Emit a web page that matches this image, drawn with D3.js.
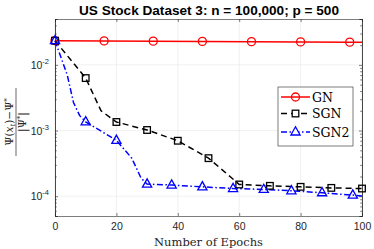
<!DOCTYPE html>
<html>
<head>
<meta charset="utf-8">
<script src="https://cdn.jsdelivr.net/npm/d3@7"></script>
<style>
  body { margin: 0; background: #fff; }
  svg { display: block; }
  .tick text { font-family: "Liberation Sans", Arial, sans-serif; font-size: 10.5px; fill: #262626; }
</style>
</head>
<body>
<div id="chart"></div>
<script>
// Data
const gnEpochs = [0, 16, 32, 48, 64, 80, 96, 100];
const gnValues = [0.0234, 0.0232, 0.0230, 0.0228, 0.0226, 0.0224, 0.0222, 0.0222];

const sgnEpochs = [0, 10, 15, 20, 30, 40, 50, 57, 60, 70, 80, 90, 100];
const sgnValues = [0.0234, 0.0063, 0.0020, 0.00135, 0.00102, 0.00070, 0.00038, 0.00020, 0.000151, 0.000144, 0.000139, 0.000134, 0.000131];
const sgnMarkers = [0, 10, 20, 30, 40, 50, 60, 70, 80, 90, 100];

const sgn2Epochs = [0, 4, 6, 8, 10, 20, 25, 28, 30, 38, 48, 58, 68, 77, 87, 97, 100];
const sgn2Values = [0.0234, 0.0070, 0.0027, 0.0017, 0.00136, 0.00071, 0.00038, 0.00019, 0.000153, 0.000148, 0.000139, 0.000131, 0.000127, 0.000121, 0.000113, 0.000104, 0.000101];
const sgn2Markers = [0, 10, 20, 30, 38, 48, 58, 68, 77, 87, 97];

const xTicks = [0, 20, 40, 60, 80, 100];
const yTicks = [1e-4, 1e-3, 1e-2];
const yExponents = ["-4", "-3", "-2"];

const titleText = "US Stock Dataset 3: n = 100,000; p = 500";
const xLabel = "Number of Epochs";

// Set dimensions and margins
const W = 374, H = 249;
const margin = { top: 19, right: 12, bottom: 33, left: 55 };
const width = W - margin.left - margin.right;
const height = H - margin.top - margin.bottom;

const svg = d3.select("#chart")
  .append("svg")
  .attr("width", W)
  .attr("height", H);

const g = svg.append("g")
  .attr("transform", `translate(${margin.left},${margin.top})`);

const x = d3.scaleLinear().domain([0, 100]).range([0, width]);
const y = d3.scaleLog().domain([5e-5, 5e-2]).range([height, 0]);

const axisColor = "#262626";

// grid
g.append("g")
  .selectAll("line.vx")
  .data(xTicks)
  .join("line")
  .attr("x1", d => x(d)).attr("x2", d => x(d))
  .attr("y1", 0).attr("y2", height)
  .attr("stroke", "#e6e6e6").attr("stroke-width", 0.6);

g.append("g")
  .selectAll("line.hy")
  .data(yTicks)
  .join("line")
  .attr("x1", 0).attr("x2", width)
  .attr("y1", d => y(d)).attr("y2", d => y(d))
  .attr("stroke", "#e6e6e6").attr("stroke-width", 0.6);

// minor log ticks
const minor = [];
[1e-5, 1e-4, 1e-3, 1e-2].forEach(dec => {
  for (let k = 2; k <= 9; k++) {
    const v = dec * k;
    if (v >= 5e-5 && v <= 5e-2) minor.push(v);
  }
});

// axes
const xAxisB = g.append("g")
  .attr("transform", `translate(0,${height})`)
  .call(d3.axisBottom(x).tickValues(xTicks).tickSize(-3).tickPadding(7).tickFormat(d3.format("d")));
const xAxisT = g.append("g")
  .call(d3.axisTop(x).tickValues(xTicks).tickSize(-3).tickFormat(""));
const yAxisL = g.append("g")
  .call(d3.axisLeft(y).tickValues(yTicks).tickSize(-3).tickPadding(5).tickFormat(""));
const yAxisR = g.append("g")
  .attr("transform", `translate(${width},0)`)
  .call(d3.axisRight(y).tickValues(yTicks).tickSize(-3).tickFormat(""));
const yMinL = g.append("g")
  .call(d3.axisLeft(y).tickValues(minor).tickSize(-1.8).tickFormat(""));
const yMinR = g.append("g")
  .attr("transform", `translate(${width},0)`)
  .call(d3.axisRight(y).tickValues(minor).tickSize(-1.8).tickFormat(""));

[xAxisB, xAxisT, yAxisL, yAxisR, yMinL, yMinR].forEach(a => {
  a.selectAll("path").attr("stroke", axisColor).attr("stroke-width", 0.6);
  a.selectAll("line").attr("stroke", axisColor).attr("stroke-width", 0.6);
});

// y tick labels 10^k
yTicks.forEach((v, i) => {
  const t = g.append("text")
    .attr("x", -6)
    .attr("y", y(v) + 4)
    .attr("text-anchor", "end")
    .style("font-family", "'Liberation Sans', Arial, sans-serif")
    .style("font-size", "10.5px")
    .attr("fill", axisColor);
  t.append("tspan").text("10");
  t.append("tspan").attr("dy", -5).style("font-size", "7.5px").text(yExponents[i]);
});

// lines
const line = d3.line().x(d => x(d[0])).y(d => y(d[1]));

const gnData = d3.zip(gnEpochs, gnValues);
const sgnData = d3.zip(sgnEpochs, sgnValues);
const sgn2Data = d3.zip(sgn2Epochs, sgn2Values);

g.append("path").datum(gnData)
  .attr("fill", "none").attr("stroke", "#ff0000").attr("stroke-width", 1.5)
  .attr("d", line);
g.append("path").datum(sgnData)
  .attr("fill", "none").attr("stroke", "#000").attr("stroke-width", 1.5)
  .attr("stroke-dasharray", "6,4")
  .attr("d", line);
g.append("path").datum(sgn2Data)
  .attr("fill", "none").attr("stroke", "#0000ff").attr("stroke-width", 1.5)
  .attr("stroke-dasharray", "6,2.5,1.5,2.5")
  .attr("d", line);

// markers
const triPath = "M0,-5.2L4.6,3L-4.6,3Z";

g.selectAll("circle.gn")
  .data(gnData.filter(d => d[0] !== 100))
  .join("circle")
  .attr("cx", d => x(d[0])).attr("cy", d => y(d[1]))
  .attr("r", 4).attr("fill", "none").attr("stroke", "#ff0000").attr("stroke-width", 1.3);

g.selectAll("rect.sgn")
  .data(sgnData.filter(d => sgnMarkers.includes(d[0])))
  .join("rect")
  .attr("x", d => x(d[0]) - 3.3).attr("y", d => y(d[1]) - 3.3)
  .attr("width", 6.6).attr("height", 6.6)
  .attr("fill", "none").attr("stroke", "#000").attr("stroke-width", 1.3);

g.selectAll("path.sgn2")
  .data(sgn2Data.filter(d => sgn2Markers.includes(d[0])))
  .join("path")
  .attr("d", triPath)
  .attr("transform", d => `translate(${x(d[0])},${y(d[1])})`)
  .attr("fill", "none").attr("stroke", "#0000ff").attr("stroke-width", 1.3);

// legend
const legend = svg.append("g").attr("transform", "translate(278,87)");
legend.append("rect")
  .attr("width", 75).attr("height", 59)
  .attr("fill", "#fff").attr("stroke", axisColor).attr("stroke-width", 0.6);

const legendItems = [
  { name: "GN", color: "#ff0000", dash: null, marker: "circle" },
  { name: "SGN", color: "#000", dash: "6,4", marker: "square" },
  { name: "SGN2", color: "#0000ff", dash: "6,2.5,1.5,2.5", marker: "tri" }
];
const legendY = [10, 26.5, 45];
legendItems.forEach((it, i) => {
  const ly = legendY[i];
  legend.append("line")
    .attr("x1", 3).attr("x2", 32).attr("y1", ly).attr("y2", ly)
    .attr("stroke", it.color).attr("stroke-width", 1.5)
    .attr("stroke-dasharray", it.dash);
  if (it.marker === "circle") {
    legend.append("circle").attr("cx", 17.5).attr("cy", ly).attr("r", 4)
      .attr("fill", "none").attr("stroke", it.color).attr("stroke-width", 1.3);
  } else if (it.marker === "square") {
    legend.append("rect").attr("x", 14.2).attr("y", ly - 3.3).attr("width", 6.6).attr("height", 6.6)
      .attr("fill", "#fff").attr("stroke", it.color).attr("stroke-width", 1.3);
  } else {
    legend.append("path").attr("d", triPath).attr("transform", `translate(17.5,${ly})`)
      .attr("fill", "#fff").attr("stroke", it.color).attr("stroke-width", 1.3);
  }
  legend.append("text")
    .attr("x", 34).attr("y", ly + 4.5)
    .style("font-family", "'DejaVu Serif', serif")
    .style("font-size", "12.5px")
    .attr("fill", "#000")
    .text(it.name);
});

// title
svg.append("text")
  .attr("x", margin.left + width / 2 + 0.5)
  .attr("y", 14.5)
  .attr("text-anchor", "middle")
  .style("font-family", "'Liberation Sans', Arial, sans-serif")
  .style("font-size", "13.6px")
  .style("font-weight", "bold")
  .attr("fill", "#000")
  .text(titleText);

// x label
svg.append("text")
  .attr("x", margin.left + width / 2)
  .attr("y", 246)
  .attr("text-anchor", "middle")
  .style("font-family", "'DejaVu Serif', serif")
  .style("font-size", "11.5px")
  .attr("fill", axisColor)
  .text(xLabel);

// y label: (Psi(x_t) - Psi*) / |Psi*|
const yl = svg.append("g").attr("transform", "translate(16,122) rotate(-90)");
const num = yl.append("text")
  .attr("x", 0).attr("y", -3)
  .attr("text-anchor", "middle")
  .style("font-family", "'DejaVu Serif', serif")
  .style("font-size", "10.5px")
  .attr("fill", axisColor);
num.append("tspan").text("Ψ(");
num.append("tspan").style("font-style", "italic").text("x");
num.append("tspan").attr("dy", 2).style("font-size", "7px").style("font-style", "italic").text("t");
num.append("tspan").attr("dy", -2).text(")−Ψ");
num.append("tspan").attr("dy", -4).style("font-size", "7px").text("*");
yl.append("line")
  .attr("x1", -34).attr("x2", 34).attr("y1", 0).attr("y2", 0)
  .attr("stroke", axisColor).attr("stroke-width", 0.7);
const den = yl.append("text")
  .attr("x", 0).attr("y", 10)
  .attr("text-anchor", "middle")
  .style("font-family", "'DejaVu Serif', serif")
  .style("font-size", "10.5px")
  .attr("fill", axisColor);
den.append("tspan").text("|Ψ");
den.append("tspan").attr("dy", -4).style("font-size", "7px").text("*");
den.append("tspan").attr("dy", 4).text("|");
</script>
</body>
</html>
